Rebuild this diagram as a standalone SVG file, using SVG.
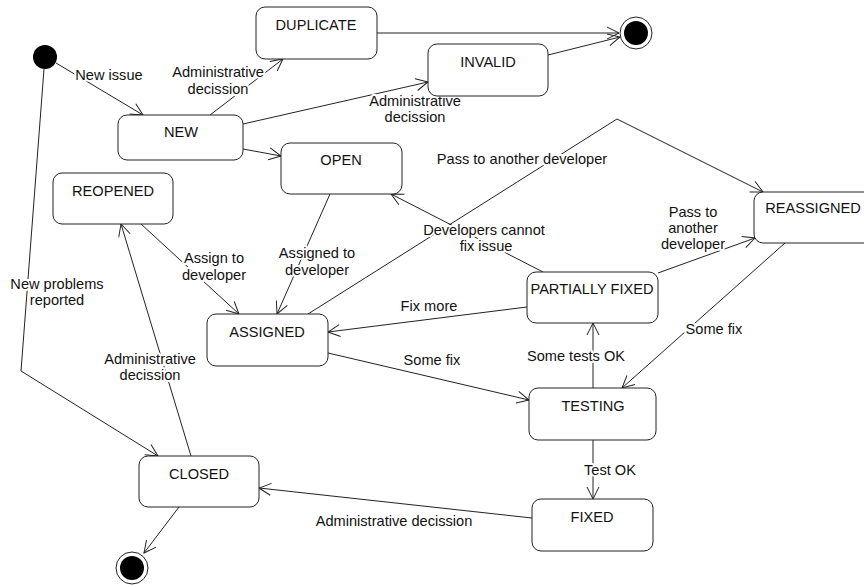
<svg xmlns="http://www.w3.org/2000/svg" width="864" height="587" viewBox="0 0 864 587">
  <defs>
    <marker id="arrow" markerUnits="userSpaceOnUse" markerWidth="16" markerHeight="16" refX="0" refY="0" viewBox="-13 -8 16 16" orient="auto" overflow="visible">
      <path d="M-12,-6 L0,0 L-12,6" fill="none" stroke="#222" stroke-width="1"/>
    </marker>
  </defs>
  <style>
    .state { fill: #fff; stroke: #222; stroke-width: 1; }
    .name { font-family: "Liberation Sans", Arial, sans-serif; font-size: 14.6px; fill: #111; text-anchor: middle; }
    .edge { fill: none; stroke: #222; stroke-width: 1; marker-end: url(#arrow); }
    .lbl { font-family: "Liberation Sans", Arial, sans-serif; font-size: 14.6px; fill: #111; text-anchor: middle; stroke: #fff; stroke-width: 4; stroke-linejoin: round; paint-order: stroke; }
  </style>
  <rect width="864" height="587" fill="#fff"/>

  <!-- transitions -->
  <g id="connectors">
    <line class="edge" x1="56" y1="63" x2="143" y2="115"/>
    <line class="edge" x1="210" y1="115" x2="283" y2="59"/>
    <line class="edge" x1="243" y1="124" x2="428" y2="82"/>
    <line class="edge" x1="377" y1="33" x2="619" y2="33"/>
    <line class="edge" x1="548" y1="55" x2="620" y2="37"/>
    <line class="edge" x1="243" y1="149" x2="281" y2="156"/>
    <line class="edge" x1="330" y1="194" x2="277" y2="314"/>
    <line class="edge" x1="141" y1="224" x2="239" y2="314"/>
    <polyline class="edge" points="308,314 617,119 763,192"/>
    <line class="edge" x1="543" y1="272" x2="391" y2="194"/>
    <line class="edge" x1="658" y1="273" x2="755" y2="238"/>
    <line class="edge" x1="527" y1="307" x2="328" y2="332"/>
    <line class="edge" x1="328" y1="353" x2="529" y2="400"/>
    <line class="edge" x1="593" y1="388" x2="593" y2="323"/>
    <line class="edge" x1="785" y1="243" x2="622" y2="388"/>
    <line class="edge" x1="593" y1="440" x2="593" y2="499"/>
    <line class="edge" x1="532" y1="518" x2="259" y2="488"/>
    <line class="edge" x1="179" y1="507" x2="144" y2="553"/>
    <line class="edge" x1="191" y1="456" x2="121" y2="224"/>
    <polyline class="edge" points="44,69 21,371 158,456"/>

    <text class="lbl" x="109" y="80">New issue</text>
    <text class="lbl" x="218" y="77">Administrative</text>
    <text class="lbl" x="218" y="94">decission</text>
    <text class="lbl" x="415" y="106">Administrative</text>
    <text class="lbl" x="415" y="122">decission</text>
    <text class="lbl" x="522" y="164">Pass to another developer</text>
    <text class="lbl" x="484" y="235">Developers cannot</text>
    <text class="lbl" x="486" y="251">fix issue</text>
    <text class="lbl" x="317" y="258">Assigned to</text>
    <text class="lbl" x="317" y="275">developer</text>
    <text class="lbl" x="214" y="263">Assign to</text>
    <text class="lbl" x="214" y="280">developer</text>
    <text class="lbl" x="57" y="289">New problems</text>
    <text class="lbl" x="57" y="305">reported</text>
    <text class="lbl" x="150" y="364">Administrative</text>
    <text class="lbl" x="150" y="380">decission</text>
    <text class="lbl" x="429" y="311">Fix more</text>
    <text class="lbl" x="693" y="217">Pass to</text>
    <text class="lbl" x="693" y="233">another</text>
    <text class="lbl" x="693" y="249">developer</text>
    <text class="lbl" x="432" y="365">Some fix</text>
    <text class="lbl" x="576" y="361">Some tests OK</text>
    <text class="lbl" x="714" y="334">Some fix</text>
    <text class="lbl" x="610" y="475">Test OK</text>
    <text class="lbl" x="394" y="526">Administrative decission</text>
  </g>

  <!-- pseudo-states -->
  <g id="initial">
    <circle cx="45" cy="57" r="12" fill="#000"/>
  </g>
  <g id="final-top">
    <circle cx="636" cy="33" r="16" fill="#fff" stroke="#222"/>
    <circle cx="636" cy="33" r="12" fill="#000"/>
  </g>
  <g id="final-bottom">
    <circle cx="132" cy="568" r="16" fill="#fff" stroke="#222"/>
    <circle cx="132" cy="568" r="12" fill="#000"/>
  </g>

  <!-- states -->
  <g id="duplicate">
    <rect class="state" x="256" y="7" width="121" height="52" rx="9"/>
    <text class="name" x="316" y="30">DUPLICATE</text>
  </g>
  <g id="invalid">
    <rect class="state" x="428" y="44" width="120" height="52" rx="9"/>
    <text class="name" x="488" y="67">INVALID</text>
  </g>
  <g id="new">
    <rect class="state" x="118" y="115" width="125" height="45" rx="9"/>
    <text class="name" x="181" y="137">NEW</text>
  </g>
  <g id="open">
    <rect class="state" x="281" y="143" width="121" height="51" rx="9"/>
    <text class="name" x="341" y="165">OPEN</text>
  </g>
  <g id="reopened">
    <rect class="state" x="53" y="173" width="120" height="51" rx="9"/>
    <text class="name" x="113" y="196">REOPENED</text>
  </g>
  <g id="reassigned">
    <rect class="state" x="754" y="192" width="120" height="51" rx="9"/>
    <text class="name" x="813" y="213">REASSIGNED</text>
  </g>
  <g id="partially-fixed">
    <rect class="state" x="527" y="272" width="131" height="51" rx="9"/>
    <text class="name" x="592" y="294">PARTIALLY FIXED</text>
  </g>
  <g id="assigned">
    <rect class="state" x="207" y="314" width="121" height="52" rx="9"/>
    <text class="name" x="267" y="337">ASSIGNED</text>
  </g>
  <g id="testing">
    <rect class="state" x="529" y="388" width="127" height="52" rx="9"/>
    <text class="name" x="593" y="411">TESTING</text>
  </g>
  <g id="fixed">
    <rect class="state" x="532" y="499" width="121" height="52" rx="9"/>
    <text class="name" x="592" y="522">FIXED</text>
  </g>
  <g id="closed">
    <rect class="state" x="139" y="456" width="120" height="51" rx="9"/>
    <text class="name" x="199" y="479">CLOSED</text>
  </g>
</svg>
